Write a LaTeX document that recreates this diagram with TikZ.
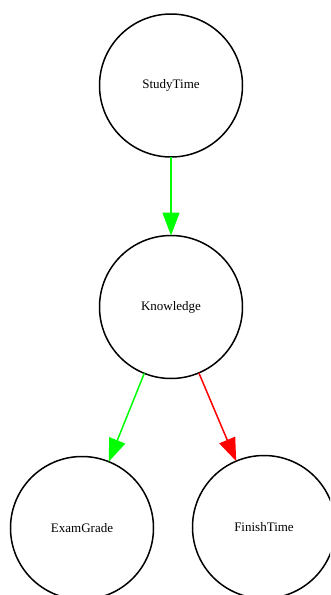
\documentclass[tikz,border=0pt]{standalone}
\usepackage{fontspec}
\setmainfont{Liberation Serif}
\usetikzlibrary{arrows.meta}
\definecolor{linkgreen}{RGB}{0,255,0}
\definecolor{linkred}{RGB}{255,0,0}
\begin{document}
\begin{tikzpicture}[x=1pt,y=-1pt,
  var/.style={circle, draw=black, line width=1.5pt, minimum size=143pt,
    inner sep=0pt, outer sep=0pt, font=\fontsize{13}{15}\selectfont},
  link/.style={line width=1.5pt, -{Triangle[length=23pt,width=17pt]}}]
  % canvas
  \fill[white] (0,0) rectangle (330,595);
  \useasboundingbox (0,0) rectangle (330,595);
  \clip (0,0) rectangle (330,595);
  % variables
  \node[var] (study)  at (171,85.5) {StudyTime};
  \node[var] (know)   at (171,307)  {Knowledge};
  \node[var] (exam)   at (82,528)   {ExamGrade};
  \node[var] (finish) at (264,527)  {FinishTime};
  % influences
  \draw[link, linkgreen] (study) -- (know);
  \draw[link, linkgreen] (know) -- (exam);
  \draw[link, linkred] (know) -- (finish);
\end{tikzpicture}
\end{document}
